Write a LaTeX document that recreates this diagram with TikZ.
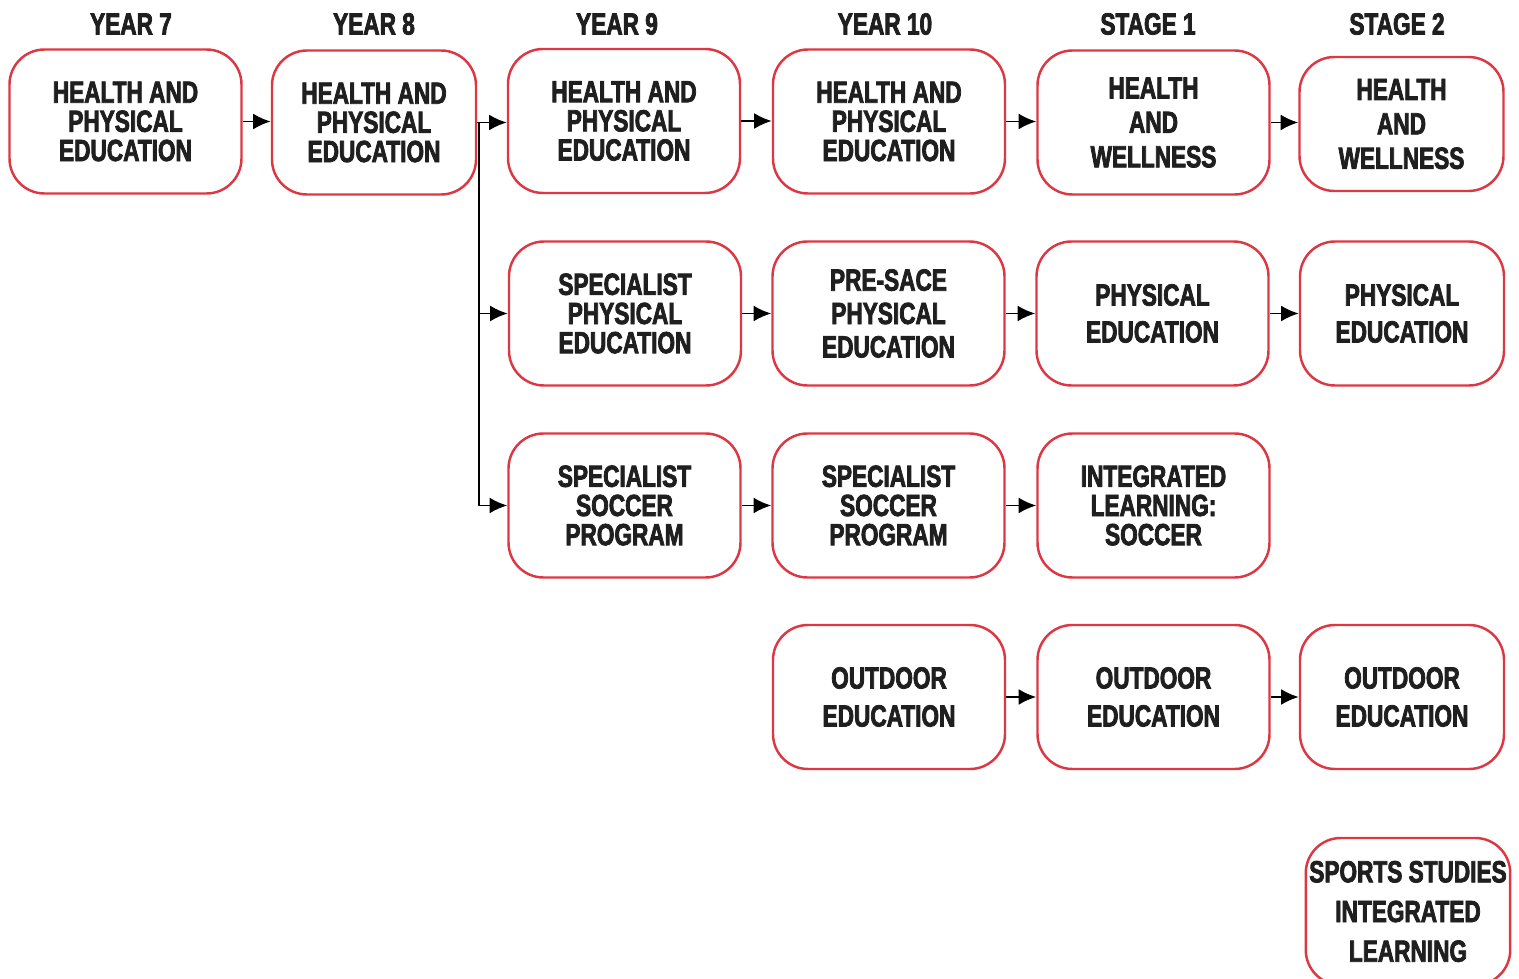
\documentclass[tikz,border=0pt]{standalone}
\usepackage{fontspec}
\newfontfamily\boxfont{Liberation Sans}[UprightFont={* Bold}, FakeStretch=0.74, FakeBold=2.5]
\usetikzlibrary{positioning, arrows.meta}
\definecolor{boxred}{RGB}{220,56,68}
\tikzset{
  course/.style={
    draw=boxred, line width=1.4pt, rounded corners=0.7cm,
    minimum width=4.64cm, minimum height=2.88cm, align=center, inner xsep=2pt,
    font=\boxfont\fontsize{17.4}{16.6}\selectfont, text=black!88
  },
  narrow/.style={minimum width=4.08cm},
  heading/.style={font=\boxfont\fontsize{17.4}{16.6}\selectfont, text=black!88},
  flow/.style={-{Latex[length=10pt,width=9pt]}, line width=1.1pt}
}

\begin{document}
\begin{tikzpicture}
  \useasboundingbox (0,0) rectangle (30.38,-19.58);

  % headings
  \node[heading] (h7)  at (2.62,-0.48)  {YEAR 7};
  \node[heading] (h8)  at (7.48,-0.48)  {YEAR 8};
  \node[heading] (h9)  at (12.34,-0.48) {YEAR 9};
  \node[heading] (h10) at (17.70,-0.48) {YEAR 10};
  \node[heading] (s1)  at (22.96,-0.48) {STAGE 1};
  \node[heading] (s2)  at (27.94,-0.48) {STAGE 2};

  % health row
  \node[course] (hpe7)  at (2.51,-2.43)  {HEALTH AND\\PHYSICAL\\EDUCATION};
  \node[course, narrow] (hpe8) at (7.48,-2.45) {HEALTH AND\\PHYSICAL\\EDUCATION};
  \node[course] (hpe9)  at (12.48,-2.42) {HEALTH AND\\PHYSICAL\\EDUCATION};
  \node[course] (hpe10) at (17.78,-2.43) {HEALTH AND\\PHYSICAL\\EDUCATION};
  \node[course] (hw1)   at (23.07,-2.45) {HEALTH\\[3pt]AND\\[3pt]WELLNESS};
  \node[course, narrow, minimum height=2.68cm] (hw2) at (28.03,-2.48) {HEALTH\\[3pt]AND\\[3pt]WELLNESS};

  % physical education row
  \node[course] (spe9)  at (12.50,-6.27) {SPECIALIST\\PHYSICAL\\EDUCATION};
  \node[course] (pre10) at (17.77,-6.27) {PRE-SACE\\[2.4pt]PHYSICAL\\[2.4pt]EDUCATION};
  \node[course] (pe1)   at (23.05,-6.27) {PHYSICAL\\[4.4pt]EDUCATION};
  \node[course, narrow] (pe2) at (28.04,-6.27) {PHYSICAL\\[4.4pt]EDUCATION};

  % soccer row
  \node[course] (ssp9)  at (12.49,-10.11) {SPECIALIST\\SOCCER\\PROGRAM};
  \node[course] (ssp10) at (17.77,-10.11) {SPECIALIST\\SOCCER\\PROGRAM};
  \node[course] (ils1)  at (23.07,-10.11) {INTEGRATED\\LEARNING:\\SOCCER};

  % outdoor row
  \node[course] (od10) at (17.78,-13.94) {OUTDOOR\\[5pt]EDUCATION};
  \node[course] (od1)  at (23.07,-13.94) {OUTDOOR\\[5pt]EDUCATION};
  \node[course, narrow] (od2) at (28.04,-13.94) {OUTDOOR\\[5pt]EDUCATION};

  \node[course, narrow, minimum height=2.94cm] (ssil2) at (28.16,-18.23)
    {SPORTS STUDIES\\[6pt]INTEGRATED\\[6pt]LEARNING};

  % connectors
  \coordinate (split) at ([xshift=0.03cm]hpe8.east);
  \draw[flow] (hpe7.east) -- (hpe7.east -| hpe8.west);
  \draw[flow] (hpe8.east) -- (hpe8.east -| hpe9.west);
  \draw[flow] (hpe9.east) -- (hpe9.east -| hpe10.west);
  \draw[flow] (hpe10.east) -- (hpe10.east -| hw1.west);
  \draw[flow] (hw1.east) -- (hw1.east -| hw2.west);
  \draw[flow] (split) |- (spe9.west);
  \draw[flow] (split) |- (ssp9.west);
  \draw[flow] (spe9.east) -- (pre10.west);
  \draw[flow] (pre10.east) -- (pe1.west);
  \draw[flow] (pe1.east) -- (pe2.west);
  \draw[flow] (ssp9.east) -- (ssp10.west);
  \draw[flow] (ssp10.east) -- (ils1.west);
  \draw[flow] (od10.east) -- (od1.west);
  \draw[flow] (od1.east) -- (od2.west);
\end{tikzpicture}
\end{document}
